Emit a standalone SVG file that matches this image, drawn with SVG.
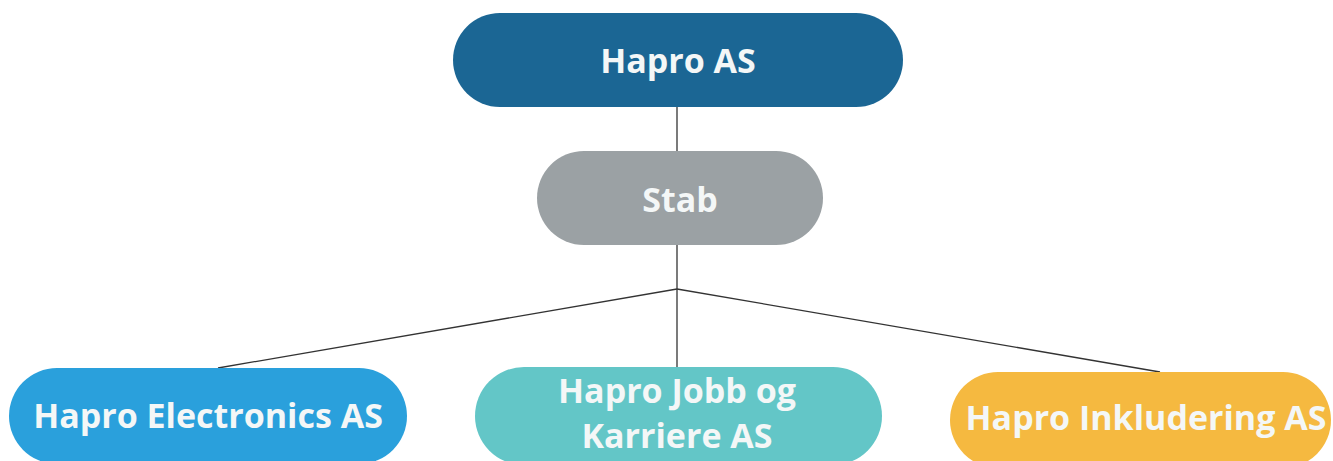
<svg xmlns="http://www.w3.org/2000/svg" width="1333" height="461" viewBox="0 0 1333 461">
<style>
.lbl{font-family:"Open Sans","Noto Sans","Liberation Sans",sans-serif;font-weight:700;font-size:34px;fill:#f4f7f7;text-anchor:middle}
.conn{stroke:#333;stroke-width:1.3;fill:none}
</style>
<rect width="1333" height="461" fill="#ffffff"/>
<g id="connectors">
<line class="conn" x1="677" y1="107" x2="677" y2="151"/>
<line class="conn" x1="677" y1="245" x2="677" y2="367"/>
<line class="conn" x1="677" y1="289" x2="218" y2="368"/>
<line class="conn" x1="677" y1="289" x2="1160" y2="372"/>
</g>
<g id="hapro-as">
<rect x="453" y="13" width="450" height="94" rx="47" fill="#1b6694"/>
<text class="lbl" x="678" y="73">Hapro AS</text>
</g>
<g id="stab">
<rect x="537" y="151" width="286" height="94" rx="47" fill="#9ba1a4"/>
<text class="lbl" x="680" y="212">Stab</text>
</g>
<g id="electronics">
<rect x="9" y="368" width="398" height="96" rx="48" fill="#2aa0dc"/>
<text class="lbl" x="208" y="428">Hapro Electronics AS</text>
</g>
<g id="jobb">
<rect x="475" y="367" width="407" height="98" rx="49" fill="#63c6c7"/>
<text class="lbl" x="677" y="403">Hapro Jobb og</text>
<text class="lbl" x="677" y="448">Karriere AS</text>
</g>
<g id="inkludering">
<rect x="950" y="372" width="381" height="96" rx="48" fill="#f5b940"/>
<text class="lbl" x="1146" y="430">Hapro Inkludering AS</text>
</g>
</svg>
